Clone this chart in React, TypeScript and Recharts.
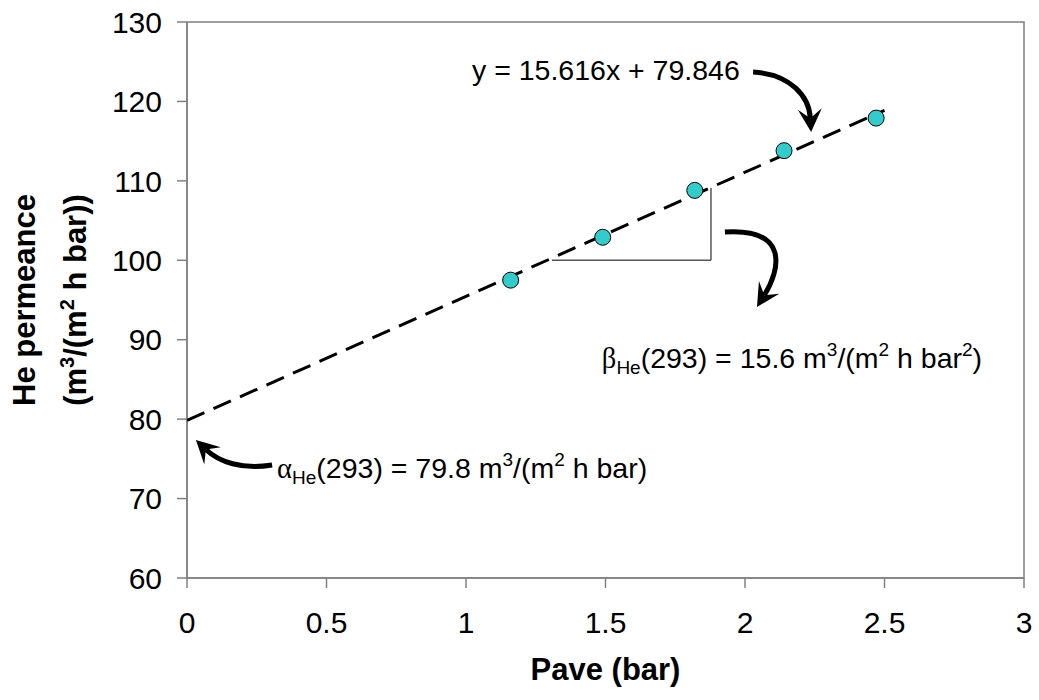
import React from 'react';
import {
  ScatterChart,
  Scatter,
  XAxis,
  YAxis,
  ReferenceLine,
  ReferenceDot,
  ReferenceArea,
  Label,
} from 'recharts';

// measured points
const paveBar = [1.16, 1.49, 1.82, 2.14, 2.47];
const hePermeance = [97.5, 102.9, 108.8, 113.8, 117.9];

// trend line y = 15.616x + 79.846, drawn from 0 to 2.5
const fitPave = [0, 2.5];
const fitPermeance = [79.846, 118.886];

const xTicks = [0, 0.5, 1, 1.5, 2, 2.5, 3];
const yTicks = [60, 70, 80, 90, 100, 110, 120, 130];

const points = paveBar.map((x, i) => ({ x, y: hePermeance[i] }));
const fitPoints = fitPave.map((x, i) => ({ x, y: fitPermeance[i] }));

const FONT = '"Liberation Sans", Arial, sans-serif';
const GREEK = '"Liberation Serif", "Times New Roman", serif';
const AXIS_GREY = '#808080';

type Pt = [number, number];

// curved arrow between the two segment ends; c1/c2 are offsets from start/end
function curvedArrow(c1: Pt, c2: Pt) {
  return (p: any) => {
    const sx = p.x1, sy = p.y1, ex = p.x2, ey = p.y2;
    const k1x = sx + c1[0], k1y = sy + c1[1];
    const k2x = ex + c2[0], k2y = ey + c2[1];
    let ux = ex - k2x, uy = ey - k2y;
    const len = Math.hypot(ux, uy) || 1;
    ux /= len;
    uy /= len;
    const nx = -uy, ny = ux;
    const L = 23, W = 12;
    const bx = ex - ux * L, by = ey - uy * L;
    const notchX = ex - ux * L * 0.6, notchY = ey - uy * L * 0.6;
    const head = [
      [ex, ey],
      [bx + nx * W, by + ny * W],
      [notchX, notchY],
      [bx - nx * W, by - ny * W],
    ]
      .map((q) => q.join(','))
      .join(' ');
    return (
      <g>
        <path
          d={`M${sx},${sy} C${k1x},${k1y} ${k2x},${k2y} ${notchX},${notchY}`}
          fill="none"
          stroke="#000"
          strokeWidth={5}
        />
        <polygon points={head} fill="#000" />
      </g>
    );
  };
}

function YTitle(props: any) {
  const vb = props.viewBox || { x: 0, y: 22, width: 187, height: 556 };
  const cy = vb.y + vb.height / 2;
  const x1 = vb.x + 35;
  const x2 = vb.x + 86;
  const common = {
    textAnchor: 'middle' as const,
    fontFamily: FONT,
    fontWeight: 'bold',
    fontSize: 31,
    fill: '#000',
  };
  return (
    <g>
      <text {...common} x={x1} y={cy} transform={`rotate(-90, ${x1}, ${cy})`}>
        He permeance
      </text>
      <text {...common} x={x2} y={cy} transform={`rotate(-90, ${x2}, ${cy})`}>
        (m<tspan dy={-12} fontSize={20}>3</tspan>
        <tspan dy={12}>/(m</tspan>
        <tspan dy={-12} fontSize={20}>2</tspan>
        <tspan dy={12}> h bar))</tspan>
      </text>
    </g>
  );
}

const textStyle = { fontFamily: FONT, fontSize: 28.5, fill: '#000' };

const eqLabel = (p: any) => (
  <text x={p.cx} y={p.cy} {...textStyle}>
    y = 15.616x + 79.846
  </text>
);

const betaLabel = (p: any) => (
  <text x={p.cx} y={p.cy} {...textStyle}>
    <tspan fontFamily={GREEK}>β</tspan>
    <tspan dy={6} fontSize={19}>He</tspan>
    <tspan dy={-6}>(293) = 15.6 m</tspan>
    <tspan dy={-12} fontSize={19}>3</tspan>
    <tspan dy={12}>/(m</tspan>
    <tspan dy={-12} fontSize={19}>2</tspan>
    <tspan dy={12}> h bar</tspan>
    <tspan dy={-12} fontSize={19}>2</tspan>
    <tspan dy={12}>)</tspan>
  </text>
);

const alphaLabel = (p: any) => (
  <text x={p.cx} y={p.cy} {...textStyle}>
    <tspan fontFamily={GREEK}>α</tspan>
    <tspan dy={6} fontSize={19}>He</tspan>
    <tspan dy={-6}>(293) = 79.8 m</tspan>
    <tspan dy={-12} fontSize={19}>3</tspan>
    <tspan dy={12}>/(m</tspan>
    <tspan dy={-12} fontSize={19}>2</tspan>
    <tspan dy={12}> h bar)</tspan>
  </text>
);

export default function App() {
  return (
    <div style={{ position: 'absolute', left: 0, top: 0, width: 1039, height: 700, background: '#fff' }}>
      <ScatterChart width={1039} height={700} margin={{ top: 22, right: 15, bottom: 0, left: 0 }}>
        <XAxis
          type="number"
          dataKey="x"
          domain={[0, 3]}
          ticks={xTicks}
          height={122}
          tickSize={10}
          tickMargin={24}
          stroke={AXIS_GREY}
          strokeWidth={1.5}
          tick={{ fill: '#000', fontSize: 30, fontFamily: FONT }}
          allowDataOverflow
        >
          <Label
            value="Pave (bar)"
            position="insideBottom"
            offset={20}
            fill="#000"
            fontSize={31}
            fontWeight="bold"
            fontFamily={FONT}
          />
        </XAxis>
        <YAxis
          type="number"
          dataKey="y"
          domain={[60, 130]}
          ticks={yTicks}
          width={187}
          tickSize={10}
          tickMargin={15}
          stroke={AXIS_GREY}
          strokeWidth={1.5}
          tick={{ fill: '#000', fontSize: 30, fontFamily: FONT }}
          allowDataOverflow
          label={<Label content={YTitle} />}
        />
        <ReferenceArea
          x1={0}
          x2={3}
          y1={60}
          y2={130}
          fill="none"
          fillOpacity={0}
          stroke={AXIS_GREY}
          strokeWidth={1.5}
          ifOverflow="visible"
        />
        {/* slope triangle */}
        <ReferenceLine
          segment={[{ x: 1.308, y: 100 }, { x: 1.878, y: 100 }]}
          stroke="#555"
          strokeWidth={1.5}
          ifOverflow="visible"
        />
        <ReferenceLine
          segment={[{ x: 1.878, y: 100 }, { x: 1.878, y: 109.1 }]}
          stroke="#555"
          strokeWidth={1.5}
          ifOverflow="visible"
        />
        <Scatter
          data={fitPoints}
          fill="#000"
          line={{ stroke: '#000', strokeWidth: 3, strokeDasharray: '19 10' }}
          shape={() => <g />}
          isAnimationActive={false}
        />
        <Scatter
          data={points}
          isAnimationActive={false}
          shape={(p: any) => (
            <circle cx={p.cx} cy={p.cy} r={8} fill="#33CCCC" stroke="#000" strokeWidth={1} />
          )}
        />
        {/* arrows */}
        <ReferenceLine
          segment={[{ x: 2.029, y: 123.7 }, { x: 2.237, y: 116.15 }]}
          ifOverflow="visible"
          shape={curvedArrow([38, 2], [-2, -35])}
        />
        <ReferenceLine
          segment={[{ x: 1.928, y: 103.56 }, { x: 2.043, y: 94.12 }]}
          ifOverflow="visible"
          shape={curvedArrow([65, -4], [23, -37])}
        />
        <ReferenceLine
          segment={[{ x: 0.305, y: 74.23 }, { x: 0.032, y: 77.38 }]}
          ifOverflow="visible"
          shape={curvedArrow([-30, 5], [23, 22])}
        />
        {/* annotations */}
        <ReferenceDot x={1.0215} y={122.7} r={0} ifOverflow="visible" shape={eqLabel} />
        <ReferenceDot x={1.487} y={86.44} r={0} ifOverflow="visible" shape={betaLabel} />
        <ReferenceDot x={0.323} y={72.6} r={0} ifOverflow="visible" shape={alphaLabel} />
      </ScatterChart>
    </div>
  );
}
